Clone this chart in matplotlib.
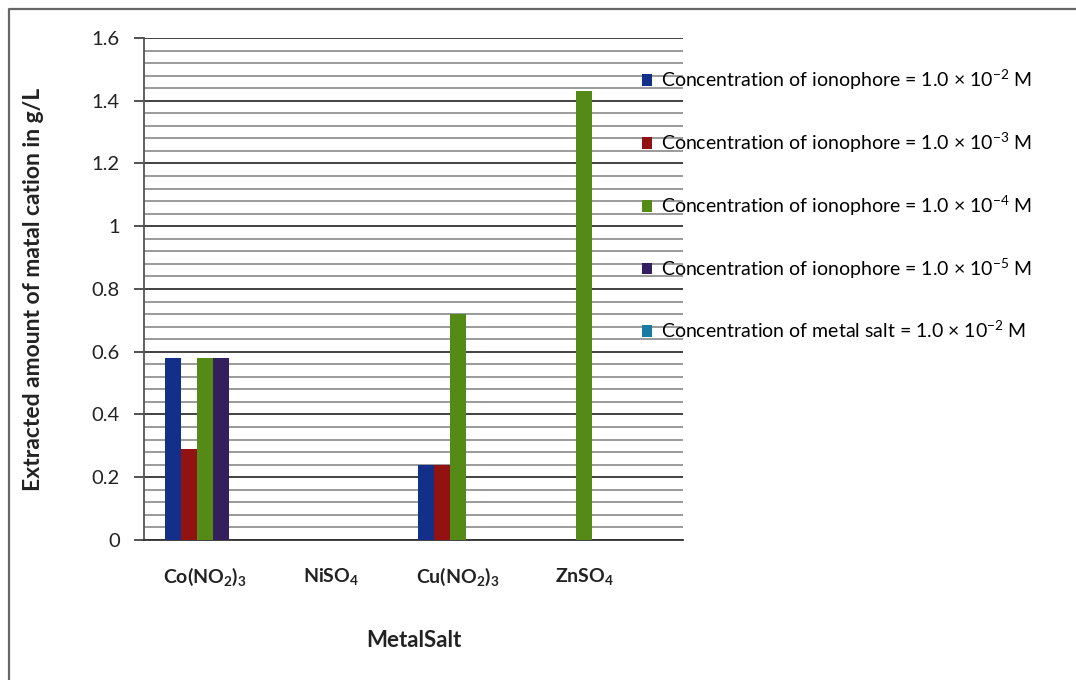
import matplotlib
matplotlib.use("Agg")
import matplotlib.pyplot as plt
from matplotlib.lines import Line2D
from matplotlib.ticker import MultipleLocator, FuncFormatter
import numpy as np

plt.rcParams["font.family"] = ["Lato", "DejaVu Sans"]
plt.rcParams["mathtext.fontset"] = "custom"
plt.rcParams["mathtext.rm"] = "Lato"
plt.rcParams["mathtext.it"] = "Lato:italic"
plt.rcParams["mathtext.bf"] = "Lato:bold"
plt.rcParams["mathtext.default"] = "regular"

# Metal salts and extracted cation amounts (g/L) per ionophore concentration
salts = [r"Co(NO$_2$)$_3$", r"NiSO$_4$", r"Cu(NO$_2$)$_3$", r"ZnSO$_4$"]
ionophore_1e2 = [0.58, 0.0, 0.24, 0.0]
ionophore_1e3 = [0.29, 0.0, 0.24, 0.0]
ionophore_1e4 = [0.58, 0.0, 0.72, 1.43]
ionophore_1e5 = [0.58, 0.0, 0.0, 0.0]
metal_salt_1e2 = [0.0, 0.0, 0.0, 0.0]

series_labels = [
    r"Concentration of ionophore = 1.0 $\times$ 10$^{-2}$ M",
    r"Concentration of ionophore = 1.0 $\times$ 10$^{-3}$ M",
    r"Concentration of ionophore = 1.0 $\times$ 10$^{-4}$ M",
    r"Concentration of ionophore = 1.0 $\times$ 10$^{-5}$ M",
    r"Concentration of metal salt = 1.0 $\times$ 10$^{-2}$ M",
]
series = [ionophore_1e2, ionophore_1e3, ionophore_1e4, ionophore_1e5, metal_salt_1e2]
colors = ["#12308A", "#921212", "#568A17", "#331F5E", "#177BA3"]

W, H = 1076, 680
fig = plt.figure(figsize=(W / 100, H / 100), dpi=100)
fig.patch.set_facecolor("white")

# outer chart frame
fig.add_artist(Line2D([8.5 / W, 8.5 / W, 1.0], [0.0, 1 - 9 / H, 1 - 9 / H],
                      transform=fig.transFigure, color="#666666", lw=1.6))

ax = fig.add_axes([144 / W, 1 - 540 / H, (683 - 144) / W, (540 - 38) / H])

x = np.arange(len(salts))
width = 0.127
n = len(series)
handles = []
for i, (vals, col, lab) in enumerate(zip(series, colors, series_labels)):
    h = ax.bar(x + (i - (n - 1) / 2) * width, vals, width, color=col, label=lab, zorder=3)
    handles.append(h)

ax.set_xlim(-0.48, 3.78)
ax.set_ylim(0, 1.6)
ax.yaxis.set_major_locator(MultipleLocator(0.2))
ax.yaxis.set_minor_locator(MultipleLocator(0.04))
ax.yaxis.set_major_formatter(FuncFormatter(lambda v, p: f"{v:g}"))
ax.grid(axis="y", which="major", color="#333333", lw=1.3, zorder=1)
ax.grid(axis="y", which="minor", color="#9a9a9a", lw=1.4, zorder=1)

for s in ["top", "right"]:
    ax.spines[s].set_visible(False)
ax.spines["left"].set_color("#555555")
ax.spines["left"].set_linewidth(1.3)
ax.spines["bottom"].set_color("#333333")
ax.spines["bottom"].set_linewidth(1.3)

ax.tick_params(axis="y", which="major", length=7.5, width=1.3, color="#444444",
               labelsize=14.5, pad=10, labelcolor="#222222")
ax.tick_params(axis="y", which="minor", length=0)
ax.set_xticks(x)
ax.set_xticklabels(salts, fontsize=14, fontweight="bold")
ax.tick_params(axis="x", length=0, pad=19, labelcolor="#222222")

ax.set_ylabel("Extracted amount of matal cation in g/L", fontsize=16.5,
              fontweight="bold", labelpad=34, color="#222222")
ax.set_xlabel("MetalSalt", fontsize=16, fontweight="bold", labelpad=30, color="#222222")

fig.legend(handles=handles, loc="upper left", bbox_to_anchor=(634 / W, 1 - 60 / H),
           frameon=False, fontsize=14, handlelength=0.55, handleheight=0.55,
           handletextpad=0.45, labelspacing=1.99, borderaxespad=0)

fig.savefig("out.png", dpi=100, facecolor="white")
